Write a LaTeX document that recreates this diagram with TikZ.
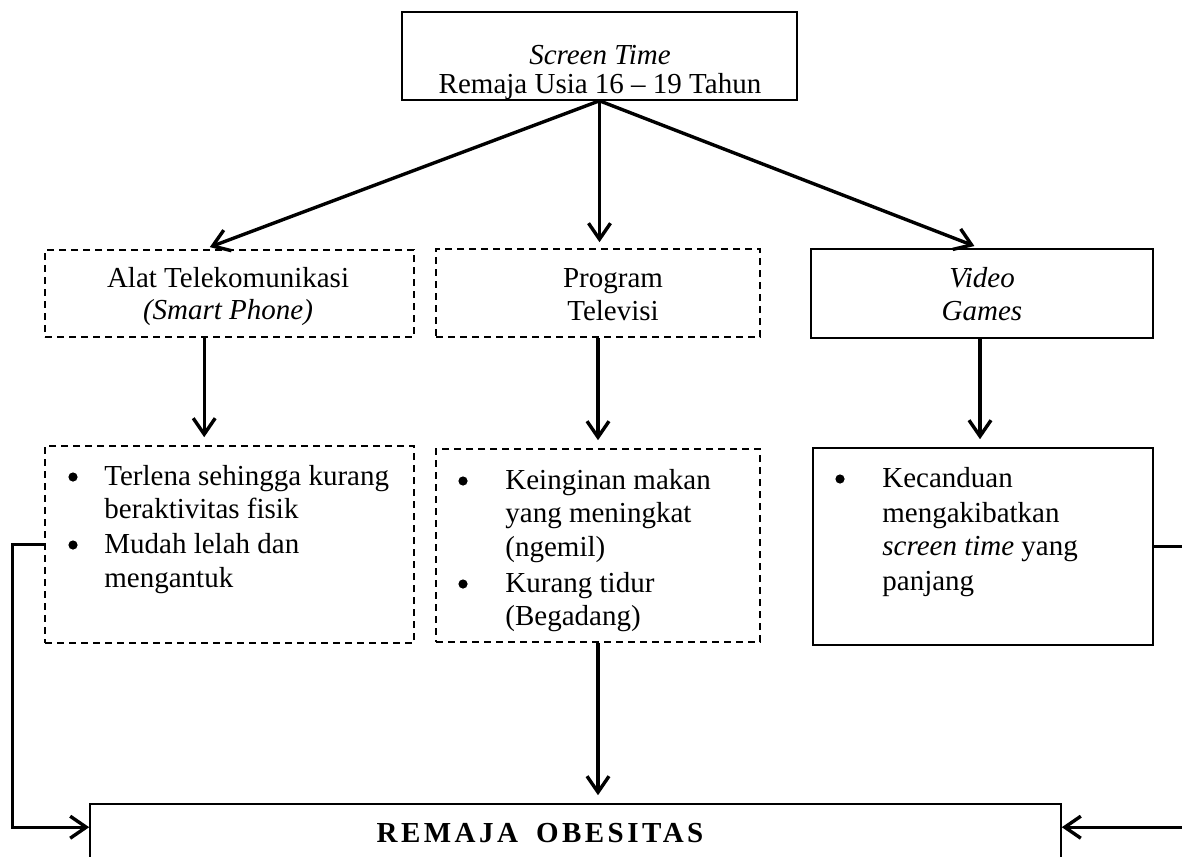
\documentclass[tikz,border=0pt]{standalone}
\usepackage{fontspec}
\setmainfont{Liberation Serif}
\usetikzlibrary{arrows.meta,fit,calc}
\begin{document}
\begin{tikzpicture}[x=0.5pt,y=-0.5pt,
  font=\fontsize{14.5pt}{17pt}\selectfont,
  solidbox/.style={draw,line width=0.8pt,inner sep=0pt},
  dashbox/.style={draw,line width=0.8pt,inner sep=0pt,dash pattern=on 3.5pt off 2.5pt},
  txt/.style={anchor=base,inner sep=0pt},
  ltxt/.style={anchor=base west,inner sep=0pt},
  blt/.style={circle,fill=black,inner sep=0pt,minimum size=4.6pt},
  arr/.style={line width=1.7pt,-{Straight Barb[length=8pt,width=11pt]}},
  conn/.style={line width=1.7pt}]
\useasboundingbox (0,0) rectangle (1182,856);

% boxes
\node[solidbox,fit={(402,12) (797,100)}] (top) {};
\node[dashbox,fit={(45,250) (414,337)}] (m1) {};
\node[dashbox,fit={(436,249) (760,337)}] (m2) {};
\node[solidbox,fit={(811,249) (1153,338)}] (m3) {};
\node[dashbox,fit={(45,446) (414,643)}] (l1) {};
\node[dashbox,fit={(436,449) (760,642)}] (l2) {};
\node[solidbox,fit={(813,448) (1153,645)}] (l3) {};
\node[solidbox,fit={(90,804) (1061,910)}] (bot) {};

% texts
\node[txt] (t1) at (600,65) {\textit{Screen Time}};
\node[txt] (t2) at (600,94) {Remaja Usia 16 – 19 Tahun};

\node[txt] (a1) at (228,287) {Alat Telekomunikasi};
\node[txt] (a2) at (228,319) {\textit{(Smart Phone)}};
\node[txt] (p1) at (613,287) {Program};
\node[txt] (p2) at (613,320) {Televisi};
\node[txt] (v1) at (982,287) {\textit{Video}};
\node[txt] (v2) at (982,320) {\textit{Games}};

\node[blt] (b1) at (73,477) {};
\node[ltxt] (x1) at (104,485) {Terlena sehingga kurang};
\node[ltxt] (x2) at (104,518) {beraktivitas fisik};
\node[blt] (b2) at (73,545) {};
\node[ltxt] (x3) at (104,553) {Mudah lelah dan};
\node[ltxt] (x4) at (104,587) {mengantuk};

\node[blt] (b3) at (463,481) {};
\node[ltxt] (y1) at (505,489) {Keinginan makan};
\node[ltxt] (y2) at (505,522) {yang meningkat};
\node[ltxt] (y3) at (505,556) {(ngemil)};
\node[blt] (b4) at (463,584) {};
\node[ltxt] (y4) at (505,592) {Kurang tidur};
\node[ltxt] (y5) at (505,625) {(Begadang)};

\node[blt] (b5) at (840,479) {};
\node[ltxt] (z1) at (882,487) {Kecanduan};
\node[ltxt] (z2) at (882,522) {mengakibatkan};
\node[ltxt] (z3) at (882,555) {\textit{screen time} yang};
\node[ltxt] (z4) at (882,590) {panjang};

\node[txt] (ob) at (540,842) {\bfseries\addfontfeature{LetterSpace=12}REMAJA\hspace{9pt}OBESITAS};

% connectors
\draw[arr,shorten >=3pt] (top.south) -- ([xshift=80pt]m1.north west);
\draw[arr,shorten >=3pt] (top.south) -- (top.south |- m2.north);
\draw[arr,shorten >=3pt] (top.south) -- ([xshift=-1pt]m3.north);

\draw[arr,shorten >=4pt] ([xshift=80pt]m1.south west) -- ([xshift=80pt]l1.north west);
\draw[arr,shorten >=4pt] (m2.south) -- (l2.north);
\draw[arr,shorten >=4pt] ([xshift=-1pt]m3.south) -- ([xshift=-1pt]m3.south |- l3.north);
\draw[arr,shorten >=4pt] (l2.south) -- (l2.south |- bot.north);

\draw[arr] (l1.west) -- ++(-16pt,0) |- ([yshift=-12pt]bot.north west);
\draw[arr] (l3.east) -- ++(30pt,0) |- ([yshift=-12pt]bot.north east);
\end{tikzpicture}
\end{document}
